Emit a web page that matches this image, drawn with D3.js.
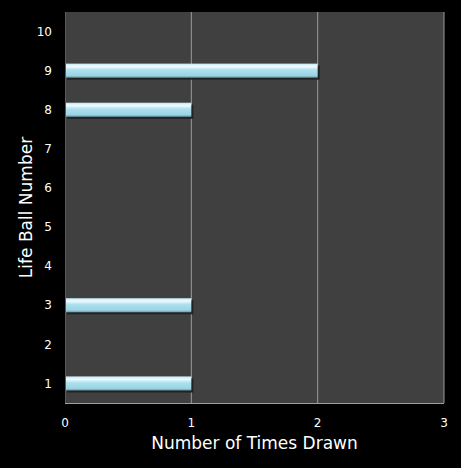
<!DOCTYPE html>
<html>
<head>
<meta charset="utf-8">
<script src="https://cdn.jsdelivr.net/npm/d3@7"></script>
<style>
  body { margin: 0; background: #000; }
  text { font-family: Verdana, "DejaVu Sans", sans-serif; fill: #fff; }
</style>
</head>
<body>
<script>
const balls = ["1", "2", "3", "4", "5", "6", "7", "8", "9", "10"];
const timesDrawn = [1, 0, 1, 0, 0, 0, 0, 1, 2, 0];
const xTicks = [0, 1, 2, 3];

const width = 461, height = 468;
const margin = { top: 12, right: 17, bottom: 65, left: 65 };

const svg = d3.select("body").append("svg")
    .attr("width", width)
    .attr("height", height);

const defs = svg.append("defs");
const grad = defs.append("linearGradient")
    .attr("id", "barGrad")
    .attr("x1", 0).attr("y1", 0).attr("x2", 0).attr("y2", 1);
grad.append("stop").attr("offset", "0%").attr("stop-color", "#c4e8f2");
grad.append("stop").attr("offset", "20%").attr("stop-color", "#f0fbfe");
grad.append("stop").attr("offset", "45%").attr("stop-color", "#ade0ee");
grad.append("stop").attr("offset", "85%").attr("stop-color", "#9ad4e4");
grad.append("stop").attr("offset", "100%").attr("stop-color", "#6a9ba8");

const x = d3.scaleLinear()
    .domain([0, 3])
    .range([margin.left, width - margin.right]);

const y = d3.scaleBand()
    .domain(balls)
    .range([height - margin.bottom, margin.top])
    .paddingInner(0.64)
    .paddingOuter(0.32);

// plot area
svg.append("rect")
    .attr("x", x(0))
    .attr("y", margin.top)
    .attr("width", x(3) - x(0))
    .attr("height", height - margin.bottom - margin.top)
    .attr("fill", "#404040");

// vertical grid lines
svg.append("g")
    .selectAll("line")
    .data(xTicks.slice(1))
    .join("line")
    .attr("x1", d => x(d)).attr("x2", d => x(d))
    .attr("y1", margin.top).attr("y2", height - margin.bottom)
    .attr("stroke", "#9a9a9a")
    .attr("stroke-width", 1);

// axis lines
svg.append("line")
    .attr("x1", x(0)).attr("x2", x(3))
    .attr("y1", height - margin.bottom + 0.5).attr("y2", height - margin.bottom + 0.5)
    .attr("stroke", "#a0a0a0");
svg.append("line")
    .attr("x1", x(0) + 0.5).attr("x2", x(0) + 0.5)
    .attr("y1", margin.top).attr("y2", height - margin.bottom)
    .attr("stroke", "#5a5a5a");

// bars
const data = balls.map((b, i) => ({ ball: b, value: timesDrawn[i] }));
const bars = svg.append("g")
    .selectAll("g")
    .data(data.filter(d => d.value > 0))
    .join("g");

bars.append("rect")
    .attr("x", x(0) + 2)
    .attr("y", d => y(d.ball) + 2)
    .attr("width", d => x(d.value) - x(0))
    .attr("height", y.bandwidth())
    .attr("fill", "#222");

bars.append("rect")
    .attr("x", x(0) + 1)
    .attr("y", d => y(d.ball))
    .attr("width", d => x(d.value) - x(0) - 1)
    .attr("height", y.bandwidth())
    .attr("fill", "url(#barGrad)");

// y tick labels
svg.append("g")
    .selectAll("text")
    .data(balls)
    .join("text")
    .attr("x", x(0) - 13)
    .attr("y", d => y(d) + y.bandwidth() / 2)
    .attr("dy", "0.35em")
    .attr("text-anchor", "end")
    .attr("font-size", 12)
    .text(d => d);

// x tick labels
svg.append("g")
    .selectAll("text")
    .data(xTicks)
    .join("text")
    .attr("x", d => x(d))
    .attr("y", height - margin.bottom + 24)
    .attr("text-anchor", "middle")
    .attr("font-size", 12)
    .text(d => d);

// axis titles
svg.append("text")
    .attr("x", (x(0) + x(3)) / 2)
    .attr("y", 449)
    .attr("text-anchor", "middle")
    .attr("font-size", 17)
    .text("Number of Times Drawn");

svg.append("text")
    .attr("transform", `translate(32, ${(margin.top + height - margin.bottom) / 2}) rotate(-90)`)
    .attr("text-anchor", "middle")
    .attr("font-size", 17)
    .text("Life Ball Number");
</script>
</body>
</html>
